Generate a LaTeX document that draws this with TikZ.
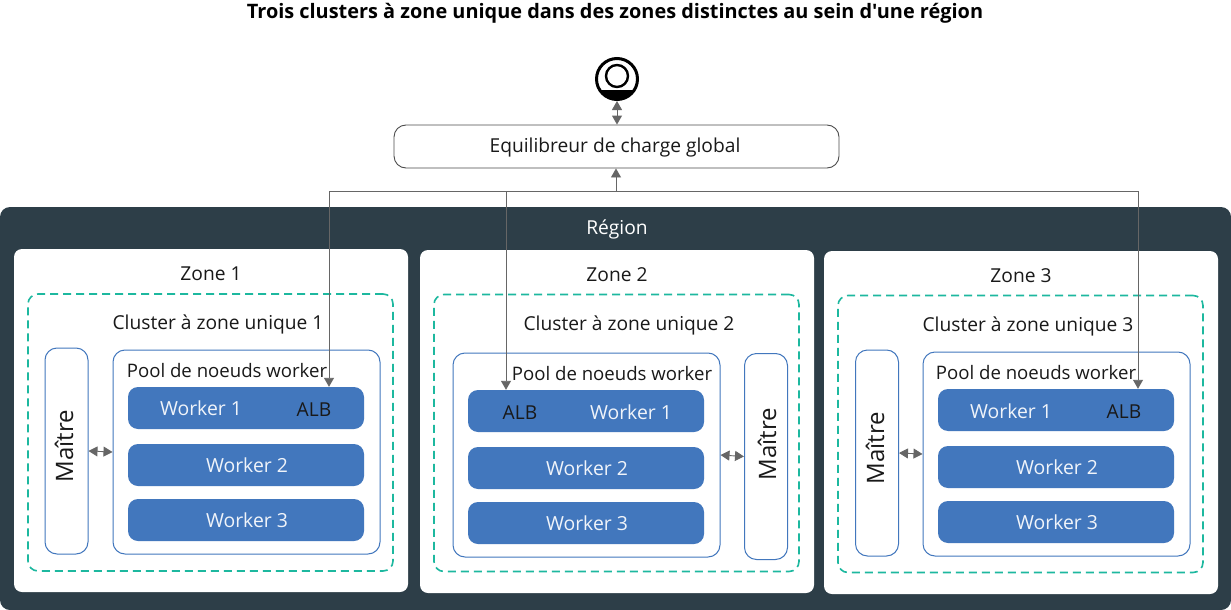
\documentclass[tikz,border=0pt]{standalone}
\usepackage{fontspec}
\setmainfont[Ligatures=TeXOff]{Open Sans}
\usetikzlibrary{arrows.meta}
\definecolor{regionfill}{HTML}{2D3E48}
\definecolor{workerfill}{HTML}{4277BD}
\definecolor{dashteal}{HTML}{1DB89F}
\definecolor{linkgray}{HTML}{666666}
\tikzset{
    zonebox/.style={draw=none, fill=white, rounded corners=8pt, minimum width=394pt, minimum height=343pt, inner sep=0pt},
    clusterbox/.style={draw=dashteal, line width=1.6pt, dash pattern=on 8pt off 5pt, rounded corners=10pt, minimum width=365pt, minimum height=277pt, inner sep=0pt},
    poolbox/.style={draw=workerfill, line width=1pt, rounded corners=12pt, minimum width=267pt, minimum height=204pt, inner sep=0pt},
    masterbox/.style={draw=workerfill, line width=1pt, rounded corners=12pt, minimum width=43pt, minimum height=206pt, inner sep=0pt},
    workerbox/.style={fill=workerfill, rounded corners=10pt, minimum width=236pt, minimum height=42pt, inner sep=0pt},
    label/.style={font=\fontsize{19.2}{21}\selectfont, text=black!90, inner sep=0pt, yshift=-1.5pt},
    poollabel/.style={font=\fontsize{18.6}{21}\selectfont, text=black!90, inner sep=0pt, yshift=-1pt},
    masterlabel/.style={font=\fontsize{24}{26}\selectfont, text=black!90, inner sep=0pt, rotate=90},
    worktext/.style={font=\fontsize{19.4}{21}\selectfont, text=white!92!workerfill, inner sep=0pt, xshift=1pt, yshift=-0.5pt},
    link/.style={draw=linkgray, line width=0.9pt, -{Triangle[length=9pt,width=10pt]}},
    dbllink/.style={draw=linkgray, line width=0.9pt, {Triangle[length=9pt,width=10pt]}-{Triangle[length=9pt,width=10pt]}},
}
\begin{document}
\begin{tikzpicture}[x=1pt,y=-1pt]
    \useasboundingbox (0,0) rectangle (1231,610);
    \node[font=\bfseries\fontsize{19.9}{22}\selectfont, inner sep=0pt] (title) at (615,13) {Trois clusters à zone unique dans des zones distinctes au sein d'une région};

    % User and load balancer
    \node[circle, draw=black, line width=3pt, fill=white, minimum size=41pt, inner sep=0pt] (user) at (617,79) {};
    \begin{scope}
        \clip (617,79) circle (21pt);
        \fill[black] (595,90) rectangle (639,102);
    \end{scope}
    \draw[black, line width=2.4pt] (617,76) circle (11pt);
    \node[draw=black!70, line width=0.9pt, fill=white, rounded corners=12pt, minimum width=445pt, minimum height=43pt, inner sep=0pt] (lb) at (616.5,146.5) {};
    \node[label] (lblabel) at (615,146) {Equilibreur de charge global};

    % Region
    \node[fill=regionfill, rounded corners=10pt, minimum width=1231pt, minimum height=403pt, inner sep=0pt] (region) at (615.5,408.5) {};
    \node[label, text=white] (regionlabel) at (617,228) {Région};

    % Zone 1
    \node[zonebox] (zonea) at (211,420.5) {};
    \node[label] (zonealabel) at (211,272) {Zone 1};
    \node[clusterbox] (clustera) at (210.5,432.5) {};
    \node[label] (clusteralabel) at (218,323) {Cluster à zone unique 1};
    \node[masterbox] (mastera) at (66.5,451) {};
    \node[masterlabel] (masteralabel) at (64,446) {Maître};
    \node[poolbox] (poola) at (246.5,452) {};
    \node[poollabel] (poolalabel) at (227,370) {Pool de noeuds worker};
    \node[workerbox] (workera1) at (246,408) {};
    \node[worktext] (workera1label) at (200,408) {Worker 1};
    \node[label] (alba) at (314,408) {ALB};
    \node[workerbox] (workera2) at (246,465) {};
    \node[worktext] at (workera2) {Worker 2};
    \node[workerbox] (workera3) at (246,520) {};
    \node[worktext] at (workera3) {Worker 3};

    % Zone 2
    \node[zonebox] (zoneb) at (617,421.5) {};
    \node[label] (zoneblabel) at (617,273) {Zone 2};
    \node[clusterbox] (clusterb) at (616.5,433) {};
    \node[label] (clusterblabel) at (629,324) {Cluster à zone unique 2};
    \node[poolbox] (poolb) at (586.5,455) {};
    \node[poollabel] (poolblabel) at (612,373) {Pool de noeuds worker};
    \node[masterbox] (masterb) at (766,456.5) {};
    \node[masterlabel] (masterblabel) at (767,444) {Maître};
    \node[workerbox] (workerb1) at (586,411) {};
    \node[label] (albb) at (520,411) {ALB};
    \node[worktext] (workerb1label) at (630,412) {Worker 1};
    \node[workerbox] (workerb2) at (586,468) {};
    \node[worktext] at (workerb2) {Worker 2};
    \node[workerbox] (workerb3) at (586,523) {};
    \node[worktext] at (workerb3) {Worker 3};

    % Zone 3
    \node[zonebox] (zonec) at (1021,422.5) {};
    \node[label] (zoneclabel) at (1021,274) {Zone 3};
    \node[clusterbox] (clusterc) at (1020.5,434) {};
    \node[label] (clusterclabel) at (1028,325) {Cluster à zone unique 3};
    \node[masterbox] (masterc) at (877,453) {};
    \node[masterlabel] (masterclabel) at (875,448) {Maître};
    \node[poolbox] (poolc) at (1056.5,454) {};
    \node[poollabel] (poolclabel) at (1036,372) {Pool de noeuds worker};
    \node[workerbox] (workerc1) at (1056,410) {};
    \node[worktext] (workerc1label) at (1010,411) {Worker 1};
    \node[label] (albc) at (1124,410) {ALB};
    \node[workerbox] (workerc2) at (1056,467) {};
    \node[worktext] at (workerc2) {Worker 2};
    \node[workerbox] (workerc3) at (1056,522) {};
    \node[worktext] at (workerc3) {Worker 3};

    % Connectors
    \coordinate (busa) at (329,191);
    \coordinate (busb) at (506,191);
    \coordinate (busm) at (616,191);
    \coordinate (busc) at (1138,191);
    \draw[dbllink] (user.south) -- (lb.north -| user.south);
    \draw[link] (busm) -- (busm |- lb.south);
    \draw[draw=linkgray, line width=0.9pt] (busa) -- (busc);
    \draw[link] (busa) -- (busa |- workera1.north);
    \draw[link] (busb) -- (busb |- workerb1.north);
    \draw[link] (busc) -- (busc |- workerc1.north);
    \foreach \m/\p in {mastera.east/poola.west, poolb.east/masterb.west, masterc.east/poolc.west}
        \draw[dbllink] (\m) -- (\p);
\end{tikzpicture}
\end{document}
